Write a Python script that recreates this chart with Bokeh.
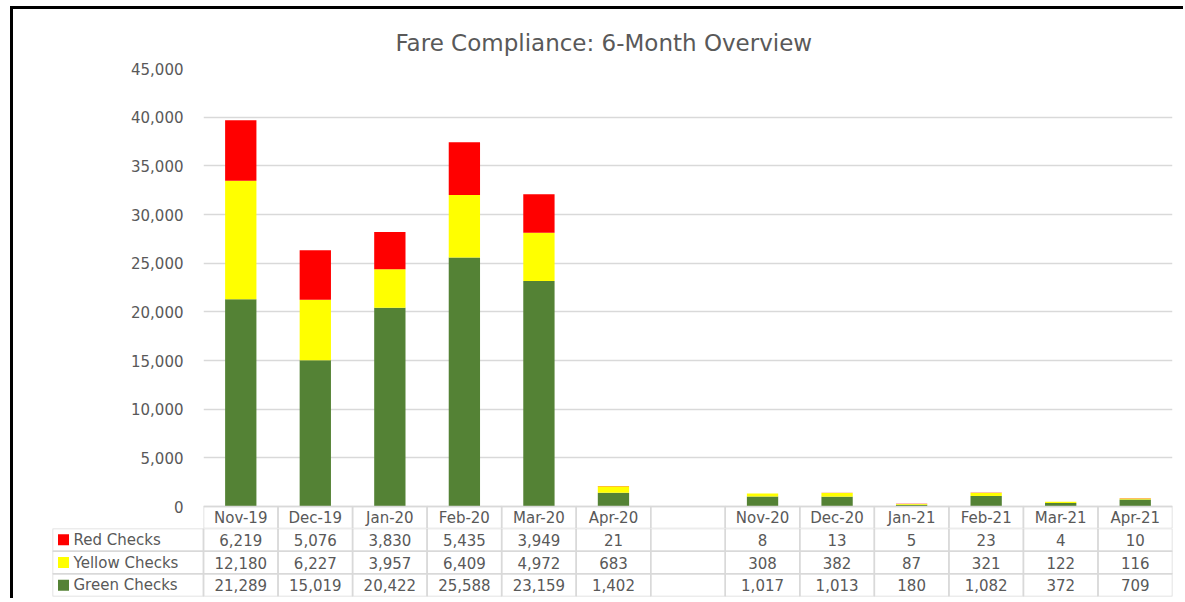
from bokeh.plotting import figure
from bokeh.models import (Range1d, FixedTicker, NumeralTickFormatter, ColumnDataSource)
from bokeh.layouts import column, row
from bokeh.embed import file_html
from bokeh.resources import INLINE
from bokeh.core.properties import value

# ---------------- data ----------------
months = ["Nov-19", "Dec-19", "Jan-20", "Feb-20", "Mar-20", "Apr-20",
          "Nov-20", "Dec-20", "Jan-21", "Feb-21", "Mar-21", "Apr-21"]
red_checks = [6219, 5076, 3830, 5435, 3949, 21, 8, 13, 5, 23, 4, 10]
yellow_checks = [12180, 6227, 3957, 6409, 4972, 683, 308, 382, 87, 321, 122, 116]
green_checks = [21289, 15019, 20422, 25588, 23159, 1402, 1017, 1013, 180, 1082, 372, 709]
series_names = ["Red Checks", "Yellow Checks", "Green Checks"]
y_ticks = [0, 5000, 10000, 15000, 20000, 25000, 30000, 35000, 40000, 45000]
title_text = "Fare Compliance:  6-Month Overview"

# ---------------- layout constants ----------------
RED, YELLOW, GREEN = "#FF0000", "#FFFF00", "#548235"
TXT = "#595959"
GRID = "#D9D9D9"
FONT = "DejaVu Sans"
N_SLOTS = 13            # 12 months + an empty gap slot
GAP_AFTER = 6
slot = [i if i < GAP_AFTER else i + 1 for i in range(len(months))]

OX, OY = 13, 9                      # page origin of figures (after margin + border)
W = 1170
RIGHT = OX + W
frameL, frameR = 203, 1172          # page px
unit = (frameR - frameL) / N_SLOTS  # px per slot
ppu = 438 / 45000                   # px per data unit (y)
header_px = 22
ya0 = -header_px / ppu

# ---------------- chart figure ----------------
pa = figure(width=W, height=528 - OY, x_range=Range1d(0, N_SLOTS), y_range=Range1d(ya0, 45000),
            output_backend="svg", toolbar_location=None, x_axis_type=None,
            min_border_left=frameL - OX, min_border_right=RIGHT - frameR,
            min_border_top=68 - OY, min_border_bottom=0)
pa.outline_line_color = None
pa.xgrid.visible = False
pa.ygrid.ticker = FixedTicker(ticks=y_ticks)
pa.ygrid.grid_line_color = GRID
pa.ygrid.grid_line_width = 1.3
ax = pa.yaxis[0]
ax.ticker = FixedTicker(ticks=y_ticks)
ax.formatter = NumeralTickFormatter(format="0,0")
ax.axis_line_color = None
ax.major_tick_line_color = None
ax.minor_tick_line_color = None
ax.major_label_standoff = 14
ax.major_label_text_font = FONT
ax.major_label_text_font_size = "15px"
ax.major_label_text_color = TXT

pa.title.text = title_text
pa.title.align = "left"
pa.title.offset = 395 - frameL
pa.title.standoff = 22
pa.title.vertical_align = "top"
pa.title.text_line_height = 1.5
pa.title.text_font = FONT
pa.title.text_font_size = "23px"
pa.title.text_font_style = "normal"
pa.title.text_color = TXT

src = ColumnDataSource(dict(x=[s + 0.5 for s in slot], green=green_checks,
                            yellow=yellow_checks, red=red_checks))
pa.vbar_stack(["green", "yellow", "red"], x="x", width=0.42, source=src,
              color=[GREEN, YELLOW, RED], line_color=None)

# header row of the data table (month labels)
pa.quad(left=list(range(N_SLOTS)), right=list(range(1, N_SLOTS + 1)),
        top=[0] * N_SLOTS, bottom=[ya0] * N_SLOTS,
        fill_color=None, line_color=GRID, line_width=1.5)
pa.text(x=[s + 0.5 for s in slot], y=[ya0 / 2] * len(months), text=months,
        text_align="center", text_baseline="middle", text_font=value(FONT),
        text_font_size="15px", text_color=TXT)

# ---------------- table figure ----------------
tableL = 52
L = (frameL - tableL) / unit
pb = figure(width=W, height=70, x_range=Range1d(-L, N_SLOTS), y_range=Range1d(0, 3),
            output_backend="svg", toolbar_location=None, x_axis_type=None, y_axis_type=None,
            min_border_left=tableL - OX, min_border_right=RIGHT - frameR,
            min_border_top=0, min_border_bottom=2)
pb.outline_line_color = None
pb.xgrid.visible = False
pb.ygrid.visible = False

rows = [red_checks, yellow_checks, green_checks]
colors = [RED, YELLOW, GREEN]
for r, (vals, name, col) in enumerate(zip(rows, series_names, colors)):
    top = 3 - r
    bot = 2 - r
    lefts = [-L] + list(range(N_SLOTS))
    rights = [0] + list(range(1, N_SLOTS + 1))
    pb.quad(left=lefts, right=rights, top=[top] * len(lefts), bottom=[bot] * len(lefts),
            fill_color=None, line_color=GRID, line_width=1.5)
    pb.text(x=[s + 0.5 for s in slot], y=[bot + 0.5] * len(vals),
            text=["{:,}".format(v) for v in vals],
            text_align="center", text_baseline="middle", text_font=value(FONT),
            text_font_size="15px", text_color=TXT)
    pb.scatter(x=[-L + 11 / unit], y=[bot + 0.5], marker="square", size=11,
               color=col, line_color=None)
    pb.text(x=[-L + 21 / unit], y=[bot + 0.5], text=[name], text_align="left",
            text_baseline="middle", text_font=value(FONT), text_font_size="15px",
            text_color=TXT)

layout = column(row(pa), row(pb),
                styles={"border-top": "3px solid #000", "border-left": "3px solid #000",
                        "margin-left": "10px", "margin-top": "6px"})
open("out.html", "w").write(file_html(layout, INLINE))
